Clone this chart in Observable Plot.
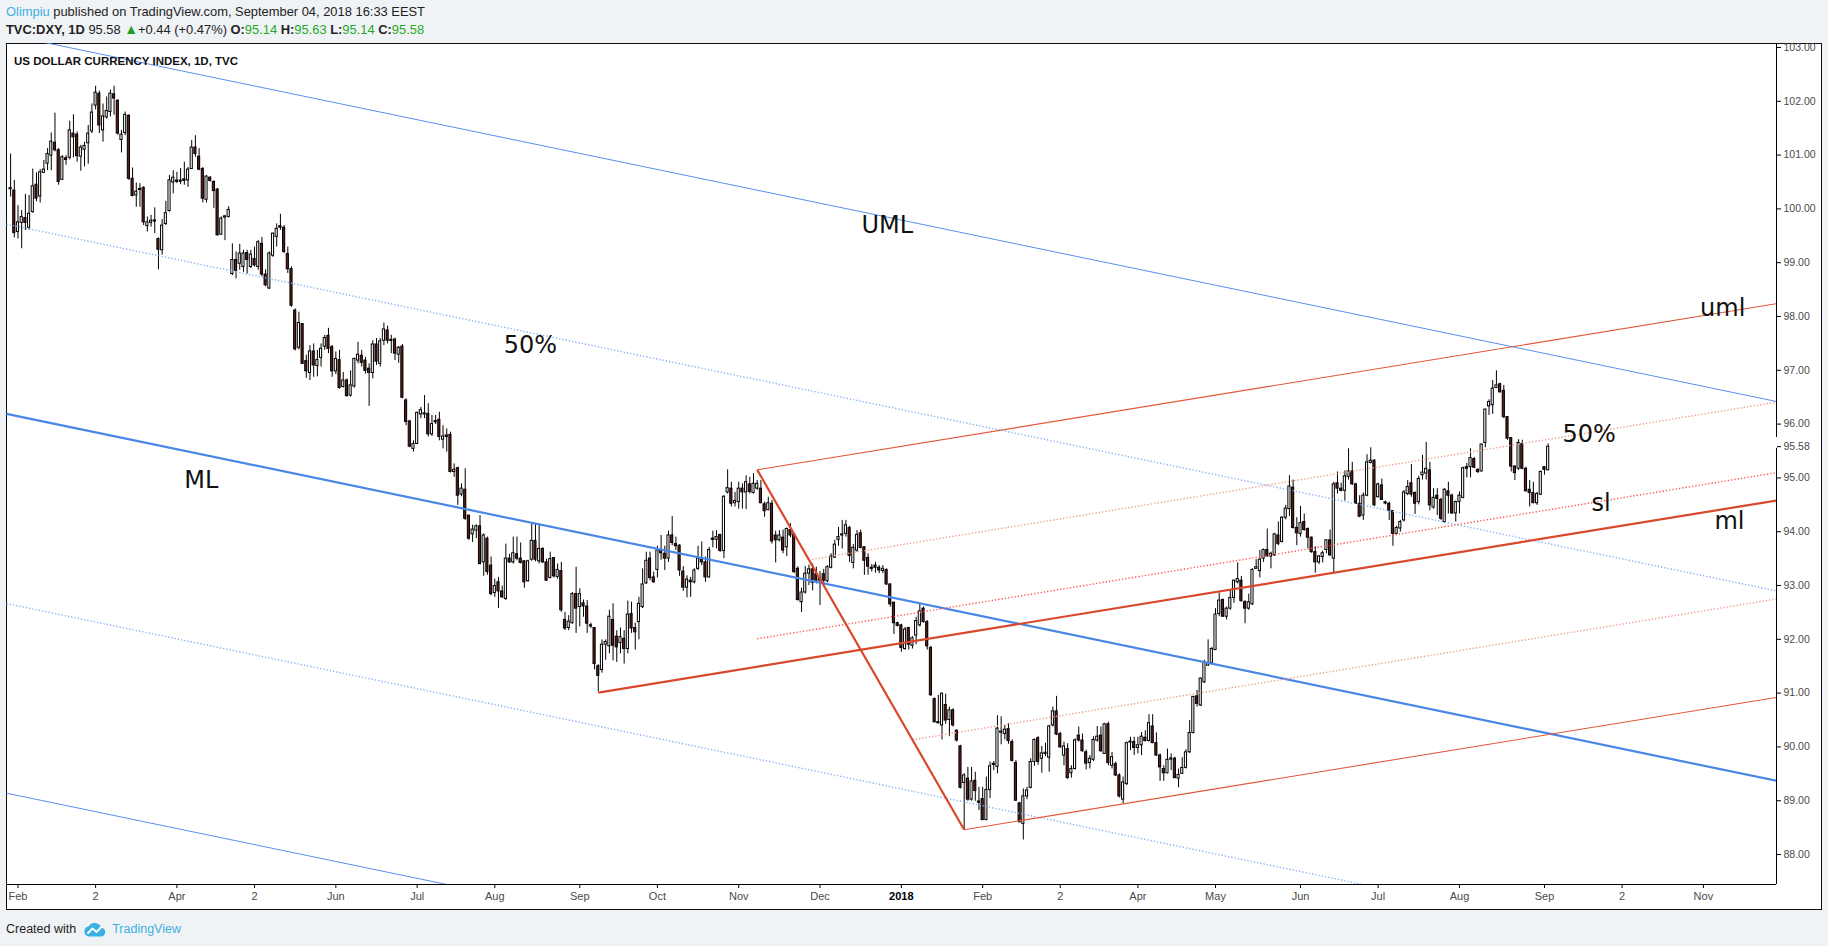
<!DOCTYPE html>
<html><head><meta charset="utf-8">
<script src="https://cdn.jsdelivr.net/npm/d3@7"></script>
<script src="https://cdn.jsdelivr.net/npm/@observablehq/plot@0.6"></script>
<style>
html,body{margin:0;padding:0;}
body{width:1828px;height:946px;background:#f0f3f6;position:relative;overflow:hidden;font-family:"Liberation Sans",Arial,sans-serif;}
#box{position:absolute;left:6px;top:43px;width:1816px;height:867px;box-sizing:border-box;border:1px solid #111;background:#fff;}
#chart{position:absolute;left:0;top:0;}
.hdr{position:absolute;left:6px;font-size:12.9px;color:#222;white-space:nowrap;line-height:14px;}
.blue{color:#3bb0e2;}
.g{color:#27a827;}
.tri{color:#1f9f1f;font-size:14px;}
#title{position:absolute;left:14px;top:54px;font-size:11.5px;font-weight:bold;color:#111;white-space:nowrap;line-height:14px;}
#foot{position:absolute;left:6px;top:920px;font-size:12.5px;color:#222;white-space:nowrap;line-height:18px;display:flex;align-items:center;}
#foot svg{margin:0 5px 0 7px;}
</style></head>
<body>
<div id="box"></div>
<div class="hdr" style="top:5px"><span class="blue">Olimpiu</span> published on TradingView.com, September 04, 2018 16:33 EEST</div>
<div class="hdr" style="top:22px"><b>TVC:DXY, 1D</b> 95.58 <span class="tri">&#9650;</span>+0.44 (+0.47%) <b>O:</b><span class="g">95.14</span> <b>H:</b><span class="g">95.63</span> <b>L:</b><span class="g">95.14</span> <b>C:</b><span class="g">95.58</span></div>
<div id="chart"></div>
<div id="title">US DOLLAR CURRENCY INDEX, 1D, TVC</div>
<div id="foot">Created with<svg width="24" height="15" viewBox="0 0 24 15"><path d="M6 14.5a5 5 0 0 1-0.5-9.9a7 7 0 0 1 12.8 1.2a4.4 4.4 0 0 1 0.2 8.7z" fill="#3bb0e2"/><path d="M4.5 11.5L9.5 6.5L13.5 10L19 4.5" stroke="#fff" stroke-width="2" fill="none"/></svg><span class="blue">TradingView</span></div>
<script>
// ---- data ----
const startDate = "2017-01-30"; // first daily bar shown
// [open, high, low, close] for each weekday from startDate
const candles = [
[100.37,101.02,100.22,100.38],[100.34,100.53,99.46,99.55],[99.57,100.06,99.44,99.75],[99.74,99.97,99.26,99.85],[99.83,100.27,99.60,99.74],
[99.65,100.25,99.60,99.91],[99.94,100.74,99.92,100.42],[100.45,100.67,100.13,100.19],[100.23,100.73,100.11,100.68],[100.67,100.90,100.66,100.73],
[100.84,101.12,100.71,101.02],[100.99,101.41,100.71,101.25],[101.23,101.78,101.06,101.09],[101.09,101.12,100.44,100.50],[100.54,100.99,100.53,100.96],
[100.94,100.99,100.81,100.91],[100.95,101.63,100.91,101.46],[101.40,101.75,100.95,101.33],[101.38,101.43,100.87,100.98],[100.97,101.18,100.70,101.14],
[101.10,101.24,100.78,101.17],[101.22,101.55,100.83,101.40],[101.44,101.95,101.40,101.79],[101.92,102.28,101.84,102.16],[102.14,102.19,101.40,101.55],
[101.46,101.95,101.24,101.72],[101.70,102.08,101.67,101.82],[101.80,102.21,101.71,102.14],[102.13,102.28,101.74,102.05],[102.01,102.03,101.37,101.40],
[101.28,101.46,101.04,101.38],[101.41,101.80,101.36,101.75],[101.73,101.75,100.53,100.56],[100.56,100.76,100.22,100.24],[100.25,100.48,100.03,100.32],
[100.37,100.47,100.03,100.35],[100.39,100.41,99.69,99.75],[99.68,99.85,99.57,99.75],[99.74,99.88,99.66,99.78],[99.78,100.02,99.54,99.77],
[99.44,99.46,98.87,99.24],[99.23,99.80,99.14,99.69],[99.72,100.14,99.69,99.92],[99.96,100.62,99.94,100.53],[100.49,100.71,100.28,100.58],
[100.52,100.68,100.47,100.51],[100.52,100.75,100.45,100.51],[100.55,100.87,100.44,100.52],[100.53,100.77,100.40,100.73],[100.74,101.27,100.74,101.14],
[101.14,101.36,100.96,101.02],[100.97,101.12,100.71,100.73],[100.74,100.77,100.11,100.19],[100.17,100.62,100.11,100.60],[100.58,100.60,100.50,100.52],
[100.50,100.52,100.01,100.33],[100.36,100.38,99.49,99.51],[99.52,99.85,99.51,99.82],[99.84,99.88,99.41,99.86],[99.85,100.04,99.83,99.98],
[98.79,99.35,98.76,99.05],[99.05,99.20,98.70,98.85],[98.98,99.34,98.86,99.17],[98.92,99.23,98.82,99.17],[99.18,99.23,98.79,99.05],
[98.92,99.23,98.89,99.15],[99.07,99.29,98.92,98.95],[98.92,99.41,98.86,99.38],[99.35,99.47,98.74,98.78],[98.78,98.87,98.55,98.58],
[98.52,99.20,98.50,99.17],[99.13,99.55,99.10,99.54],[99.48,99.72,99.29,99.63],[99.68,99.90,99.60,99.65],[99.65,99.69,99.17,99.20],
[99.16,99.29,98.80,98.88],[98.88,98.92,98.17,98.20],[98.11,98.14,97.36,97.39],[97.42,98.08,97.38,97.88],[97.86,97.87,97.11,97.12],
[97.17,97.28,96.85,96.98],[96.95,97.46,96.81,97.35],[97.35,97.49,96.87,97.09],[97.08,97.37,96.88,97.19],[97.23,97.49,97.06,97.40],
[97.44,97.65,97.37,97.60],[97.64,97.78,97.31,97.40],[97.43,97.46,96.87,96.98],[96.98,97.34,96.92,97.21],[97.19,97.37,96.65,96.67],
[96.69,96.96,96.67,96.81],[96.81,96.84,96.50,96.52],[96.53,96.99,96.50,96.72],[96.70,97.23,96.67,97.21],[97.18,97.52,97.12,97.29],
[97.27,97.37,97.06,97.14],[97.18,97.24,96.93,96.99],[97.03,97.12,96.33,96.95],[96.95,97.55,96.84,97.48],[97.48,97.59,97.09,97.16],
[97.12,97.59,97.06,97.54],[97.55,97.88,97.46,97.76],[97.74,97.82,97.49,97.55],[97.56,97.65,97.31,97.55],[97.57,97.60,97.18,97.31],
[97.29,97.44,97.13,97.42],[97.44,97.48,96.47,96.49],[96.44,96.47,95.97,96.04],[96.05,96.07,95.56,95.58],[95.54,95.69,95.48,95.63],
[95.63,96.22,95.62,96.21],[96.18,96.31,96.10,96.26],[96.19,96.53,96.10,96.19],[96.19,96.38,95.76,95.81],[95.81,96.16,95.77,96.00],
[96.05,96.16,95.99,96.04],[96.08,96.22,95.69,95.76],[95.71,95.97,95.54,95.77],[95.79,95.91,95.48,95.76],[95.80,95.85,95.09,95.11],
[95.11,95.26,95.01,95.15],[95.18,95.20,94.49,94.67],[94.69,94.89,94.65,94.80],[94.78,95.17,94.21,94.24],[94.30,94.30,93.84,93.87],
[93.95,94.12,93.80,94.04],[94.02,94.13,93.87,94.10],[94.10,94.30,93.38,93.40],[93.43,93.96,93.17,93.93],[93.87,93.90,93.19,93.25],
[93.37,93.53,92.81,92.84],[92.86,93.12,92.78,92.99],[93.06,93.15,92.57,92.89],[92.89,92.99,92.76,92.78],[92.75,93.77,92.72,93.50],
[93.50,93.58,93.41,93.43],[93.43,93.90,93.40,93.60],[93.58,93.90,93.46,93.50],[93.50,93.79,93.40,93.42],[93.45,93.46,92.95,93.06],
[93.08,93.47,93.06,93.45],[93.48,94.16,93.45,93.83],[93.83,94.15,93.44,93.48],[93.45,94.13,93.40,93.68],[93.68,93.70,93.41,93.43],
[93.43,93.49,93.08,93.09],[93.14,93.62,93.12,93.49],[93.51,93.52,93.14,93.17],[93.16,93.40,93.12,93.29],[93.27,93.43,92.50,92.54],
[92.36,92.50,92.16,92.20],[92.21,92.44,92.16,92.33],[92.30,92.87,92.28,92.84],[92.84,93.34,92.11,92.57],[92.60,92.94,92.23,92.84],
[92.67,92.73,92.41,92.61],[92.61,92.72,92.11,92.29],[92.26,92.30,92.20,92.24],[92.21,92.22,91.43,91.54],[91.50,91.53,91.02,91.32],
[91.43,91.99,91.37,91.90],[91.90,91.99,91.61,91.95],[91.87,92.54,91.73,92.42],[92.36,92.66,91.60,91.88],[92.05,92.16,91.57,91.85],
[91.93,92.21,91.73,92.04],[92.01,92.16,91.54,91.82],[91.82,92.71,91.73,92.46],[92.47,92.69,92.11,92.20],[92.21,92.30,91.80,92.13],
[92.32,92.78,91.99,92.66],[92.60,93.31,92.57,93.02],[93.04,93.62,93.02,93.46],[93.50,93.62,93.09,93.14],[93.15,93.25,93.04,93.06],
[93.29,93.73,93.14,93.65],[93.65,93.93,93.47,93.60],[93.59,93.73,93.28,93.50],[93.50,94.01,93.43,93.93],[93.93,94.28,93.74,93.79],
[93.77,93.90,93.65,93.73],[93.74,93.76,93.17,93.28],[93.26,93.35,92.89,92.96],[92.96,93.18,92.77,93.11],[93.09,93.15,92.78,93.06],
[93.06,93.31,93.03,93.28],[93.31,93.73,93.28,93.50],[93.48,93.81,93.37,93.43],[93.43,93.53,93.06,93.15],[93.15,93.71,93.14,93.66],
[93.87,94.01,93.70,93.85],[93.85,94.02,93.68,93.90],[93.94,93.95,93.62,93.64],[93.64,94.67,93.50,94.65],[94.73,95.15,94.70,94.81],
[94.80,94.92,94.46,94.52],[94.53,94.73,94.46,94.57],[94.55,94.92,94.42,94.80],[94.80,94.89,94.42,94.73],[94.73,95.04,94.41,94.92],
[94.88,95.01,94.70,94.74],[94.72,95.08,94.70,94.89],[94.80,94.95,94.77,94.89],[94.80,94.95,94.52,94.53],[94.51,94.55,94.27,94.38],
[94.40,94.64,94.39,94.53],[94.52,94.58,93.77,93.82],[93.93,94.01,93.42,93.84],[93.84,94.02,93.81,93.93],[93.89,94.03,93.59,93.65],
[93.71,94.07,93.54,94.05],[94.03,94.15,93.89,93.93],[93.95,93.97,93.22,93.25],[93.31,93.35,92.71,92.73],[92.69,92.95,92.50,92.87],
[92.87,93.35,92.84,93.22],[93.22,93.38,93.00,93.30],[93.30,93.40,92.90,93.05],[93.21,93.34,93.03,93.09],[93.09,93.26,92.63,93.13],
[93.21,93.30,92.98,93.09],[93.08,93.37,93.05,93.34],[93.33,93.59,93.31,93.54],[93.52,93.84,93.50,93.76],[93.85,94.08,93.73,93.90],
[93.93,94.21,93.68,93.95],[93.96,94.21,93.90,94.12],[94.07,94.10,93.43,93.55],[93.42,93.76,93.31,93.70],[93.65,94.02,93.62,93.94],
[93.97,94.03,93.68,93.70],[93.71,93.72,93.19,93.46],[93.51,93.59,93.19,93.35],[93.33,93.39,93.25,93.31],[93.37,93.43,93.23,93.33],
[93.33,93.37,93.22,93.28],[93.27,93.37,93.22,93.31],[93.29,93.31,93.00,93.02],[93.02,93.03,92.60,92.65],[92.68,92.69,92.09,92.30],
[92.30,92.32,92.23,92.25],[92.26,92.28,91.76,91.84],[91.82,92.22,91.80,92.18],[92.21,92.22,91.80,91.90],[91.88,92.05,91.82,92.02],
[92.07,92.41,91.90,92.34],[92.26,92.65,92.23,92.52],[92.57,92.60,92.30,92.32],[92.32,92.35,91.80,91.87],[91.84,91.87,90.94,90.96],
[90.89,90.91,90.44,90.46],[90.46,90.96,90.43,90.44],[90.40,91.00,90.13,90.99],[90.78,90.98,90.42,90.49],[90.50,90.74,90.19,90.68],
[90.68,90.71,90.37,90.40],[90.30,90.32,90.09,90.12],[90.01,90.03,89.22,89.24],[89.33,89.50,88.46,89.47],[89.41,89.62,88.99,89.02],
[89.02,89.62,88.99,89.36],[89.37,89.53,88.99,89.18],[88.98,89.25,88.82,88.97],[89.03,89.25,88.63,88.64],[88.64,89.44,88.63,89.20],
[89.20,89.72,89.04,89.64],[89.67,89.73,89.56,89.68],[89.63,90.58,89.50,90.34],[90.27,90.56,90.04,90.28],[90.24,90.40,90.13,90.32],
[90.33,90.43,90.05,90.11],[90.09,90.13,89.72,89.74],[89.70,89.75,88.99,89.00],[88.95,88.97,88.59,88.60],[88.57,89.22,88.27,89.08],
[89.08,89.25,89.02,89.19],[89.24,89.78,89.22,89.72],[89.72,90.15,89.64,90.13],[90.16,90.19,89.66,89.72],[89.78,90.01,89.51,89.88],
[89.87,90.07,89.82,89.89],[89.80,90.40,89.53,90.38],[90.40,90.74,90.37,90.66],[90.66,90.94,90.21,90.23],[90.24,90.27,89.98,89.99],
[89.84,90.09,89.65,90.01],[89.96,90.06,89.40,89.42],[89.51,89.65,89.42,89.59],[89.59,90.15,89.57,90.12],[90.21,90.37,90.09,90.12],
[90.12,90.24,89.90,89.92],[89.90,89.94,89.57,89.69],[89.70,89.84,89.59,89.78],[89.76,90.19,89.73,90.13],[90.12,90.38,90.09,90.19],
[90.21,90.37,89.90,89.92],[89.87,90.44,89.86,90.42],[90.42,90.46,89.65,89.70],[89.65,89.90,89.59,89.81],[89.68,89.72,89.45,89.47],
[89.47,89.50,89.05,89.08],[89.02,89.44,88.94,89.34],[89.31,90.09,89.28,90.07],[90.08,90.18,89.93,90.10],[90.09,90.18,89.84,89.98],
[89.98,90.18,89.87,90.03],[90.03,90.27,89.84,90.19],[90.17,90.30,90.09,90.11],[90.11,90.60,90.09,90.44],[90.38,90.60,90.06,90.07],
[90.07,90.26,89.82,89.84],[89.84,89.87,89.36,89.62],[89.59,89.65,89.36,89.51],[89.51,89.96,89.50,89.76],[89.77,89.87,89.56,89.78],
[89.78,89.81,89.41,89.42],[89.41,89.59,89.24,89.48],[89.50,89.80,89.49,89.61],[89.61,89.95,89.59,89.90],[89.90,90.49,89.88,90.26],
[90.26,90.94,90.24,90.93],[90.94,91.05,90.74,90.80],[90.77,91.28,90.75,91.27],[91.20,91.61,91.18,91.56],[91.51,91.99,91.51,91.56],
[91.56,91.85,91.54,91.82],[91.80,92.57,91.79,92.46],[92.47,92.86,92.42,92.72],[92.73,92.75,92.41,92.42],[92.42,92.60,92.36,92.57],
[92.57,92.92,92.54,92.77],[92.77,93.10,92.67,93.09],[93.06,93.42,93.03,93.12],[93.09,93.17,92.69,92.71],[92.69,92.72,92.29,92.57],
[92.57,92.84,92.54,92.69],[92.65,93.31,92.63,93.29],[93.31,93.48,93.31,93.34],[93.27,93.65,93.14,93.48],[93.50,93.68,93.43,93.66],
[93.66,94.05,93.53,93.54],[93.54,93.62,93.31,93.59],[93.56,93.97,93.54,93.95],[93.93,94.18,93.74,93.77],[93.81,94.28,93.79,94.26],
[94.26,94.49,94.22,94.43],[94.42,95.04,94.28,94.84],[94.82,94.96,94.05,94.07],[94.07,94.26,93.74,93.97],[93.96,94.47,93.90,94.16],
[94.18,94.33,94.01,94.03],[94.05,94.07,93.68,93.89],[93.89,93.90,93.60,93.62],[93.62,93.72,93.23,93.43],[93.43,93.56,93.39,93.54],
[93.53,93.64,93.42,93.60],[93.66,93.85,93.59,93.84],[93.84,94.03,93.54,93.56],[93.50,94.92,93.23,94.88],[94.90,95.11,94.70,94.80],
[94.80,94.90,94.74,94.76],[94.76,95.13,94.57,95.03],[95.02,95.54,94.96,95.12],[95.12,95.29,94.86,94.88],[94.88,94.90,94.51,94.52],
[94.52,94.67,94.26,94.28],[94.30,94.72,94.21,94.67],[94.67,95.43,94.65,95.29],[95.28,95.56,95.26,95.32],[95.32,95.34,94.47,94.49],
[94.64,94.90,94.63,94.88],[94.86,94.98,94.58,94.59],[94.54,94.57,94.50,94.53],[94.52,94.55,94.21,94.39],[94.38,94.39,93.73,93.96],
[93.96,94.10,93.95,94.07],[94.06,94.21,93.99,94.18],[94.21,94.77,94.18,94.73],[94.70,94.95,94.67,94.83],[94.90,95.25,94.64,94.69],
[94.72,94.74,94.32,94.52],[94.55,95.03,94.50,94.98],[95.05,95.42,94.96,95.10],[95.08,95.66,94.96,95.17],[95.14,95.29,94.39,94.49],
[94.45,94.80,94.42,94.63],[94.67,94.80,94.30,94.61],[94.59,94.62,94.21,94.24],[94.18,94.80,94.16,94.78],[94.75,94.92,94.33,94.67],
[94.67,94.70,94.32,94.34],[94.34,94.57,94.18,94.55],[94.55,94.74,94.33,94.67],[94.63,95.20,94.61,95.18],[95.20,95.27,95.00,95.17],
[95.20,95.54,95.00,95.37],[95.35,95.38,95.17,95.19],[95.15,95.17,95.08,95.11],[95.12,95.63,95.11,95.62],[95.65,96.28,95.56,96.27],
[96.33,96.45,96.16,96.41],[96.35,96.81,96.18,96.66],[96.67,96.99,96.66,96.72],[96.74,96.76,96.58,96.59],[96.62,96.72,96.10,96.13],
[96.13,96.14,95.70,95.73],[95.74,95.75,95.11,95.21],[95.21,95.23,94.95,95.09],[95.17,95.71,95.14,95.65],[95.63,95.70,95.15,95.17],
[95.17,95.20,94.74,94.75],[94.78,94.95,94.46,94.72],[94.72,94.92,94.52,94.53],[94.53,94.73,94.49,94.70],[94.69,95.13,94.67,95.11],
[95.20,95.21,95.05,95.15],[95.14,95.63,95.14,95.58]
];
// time-axis tick labels (TradingView bar-index axis)
const tickDates  = ["2017-02-01","2017-03-02","2017-04-03","2017-05-02","2017-06-01","2017-07-03","2017-08-01","2017-09-01","2017-10-02","2017-11-01","2017-12-01","2018-01-02","2018-02-01","2018-03-02","2018-04-02","2018-05-01","2018-06-01","2018-07-02","2018-08-01","2018-09-03","2018-10-02","2018-11-01"];
const tickLabels = ["Feb","2","Apr","2","Jun","Jul","Aug","Sep","Oct","Nov","Dec","2018","Feb","2","Apr","May","Jun","Jul","Aug","Sep","2","Nov"];
const priceTicks = [88,89,90,91,92,93,94,95,96,97,98,99,100,101,102,103];
const lastPrice = 95.58;
// red Andrews pitchfork pivots: [date, price]
const redPivotDates  = ["2017-09-08","2017-11-08","2018-01-25"];
const redPivotPrices = [91.01, 95.15, 88.46];
const slAnchorDate = "2017-11-08", slAnchorPrice = 92.01;
// blue pitchfork (pivots off-chart): price of each line at left and right edge
const blueNames = ["UML","50% up","ML","50% low","LML"];
const blueLeft  = [103.24, 99.715, 96.19, 92.665, 89.14];
const blueRight = [96.42, 92.90, 89.37, 85.85, 82.32];
// annotation texts: [text, bar index, price]
const noteTexts  = ["UML","50%","ML","uml","50%","sl","ml"];
const noteBars   = [228.2, 131.4, 45.0, 455.1, 417.9, 425.7, 459.0];
const notePrices = [99.69, 97.46, 94.95, 98.15, 95.81, 94.52, 94.19];
// visible domains
const barDomain = [-3.11, 475.78];
const priceDomain = [87.443, 103.074];

// ---- helpers ----
function bizIndex(s) { // weekday count relative to 2017-02-01
  const base = Date.UTC(2017, 1, 1), t = Date.parse(s + "T00:00:00Z");
  const lo = Math.min(base, t), hi = Math.max(base, t);
  let n = 0;
  for (let d = lo; d < hi; d += 864e5) { const w = new Date(d).getUTCDay(); if (w !== 0 && w !== 6) n++; }
  return t >= base ? n : -n;
}
const i0 = bizIndex(startDate);
const bars = candles.map(([o, h, l, c], j) => ({i: i0 + j, o, h, l, c}));
const tickIdx = tickDates.map(bizIndex);
const tickMap = new Map(tickIdx.map((v, k) => [v, tickLabels[k]]));
const boldIdx = tickIdx.filter((v, k) => tickLabels[k] === "2018");
const normIdx = tickIdx.filter((v, k) => tickLabels[k] !== "2018");

const [A, B, C] = redPivotDates.map((d, k) => ({i: bizIndex(d), p: redPivotPrices[k]}));
const M = {i: (B.i + C.i) / 2, p: (B.p + C.p) / 2};
const slope = (M.p - A.p) / (M.i - A.i);
const xEnd = barDomain[1];
const ext = (P) => ({x1: P.i, y1: P.p, x2: xEnd, y2: P.p + slope * (xEnd - P.i)});
const along = (f) => ({i: B.i + f * (C.i - B.i), p: B.p + f * (C.p - B.p)});
const slP = {i: bizIndex(slAnchorDate), p: slAnchorPrice};

const red = {
  ml: ext(A), uml: ext(B), lml: ext(C),
  handle: {x1: B.i, y1: B.p, x2: C.i, y2: C.p},
  u50: ext(along(0.25)), l50: ext(along(0.75)), sl: ext(slP)
};
const blue = blueNames.map((n, k) => ({n, x1: barDomain[0], y1: blueLeft[k], x2: barDomain[1], y2: blueRight[k]}));

const link = (seg, opts) => Plot.link([seg], {x1: "x1", y1: "y1", x2: "x2", y2: "y2", clip: true, ...opts});
const blueStyle = [
  {stroke: "#5b8ef0", strokeWidth: 1},
  {stroke: "#86aff5", strokeWidth: 1.4, strokeDasharray: "1.3,2"},
  {stroke: "#4a86e8", strokeWidth: 2.2},
  {stroke: "#86aff5", strokeWidth: 1.4, strokeDasharray: "1.3,2"},
  {stroke: "#5b8ef0", strokeWidth: 1}
];
const minBody = 0.011;
const bodyY1 = d => Math.abs(d.c - d.o) < 2 * minBody ? (d.o + d.c) / 2 - minBody : d.o;
const bodyY2 = d => Math.abs(d.c - d.o) < 2 * minBody ? (d.o + d.c) / 2 + minBody : d.c;
const notes = noteTexts.map((t, k) => ({t, i: noteBars[k], p: notePrices[k]}));

const chart = Plot.plot({
  width: 1828, height: 946,
  marginLeft: 6, marginRight: 52, marginTop: 43, marginBottom: 62,
  style: {background: "transparent", overflow: "visible"},
  x: {type: "linear", domain: barDomain, axis: null},
  y: {type: "linear", domain: priceDomain, axis: null},
  marks: [
    // candles
    Plot.ruleX(bars, {x: "i", y1: "l", y2: "h", stroke: "#000", strokeWidth: 1}),
    Plot.rect(bars, {x1: d => d.i - 0.29, x2: d => d.i + 0.29, y1: bodyY1, y2: bodyY2,
      fill: d => d.c >= d.o ? "#ffffff" : "#5f1c14", stroke: "#000", strokeWidth: 1}),
    // blue pitchfork
    ...blue.map((s, k) => link(s, blueStyle[k])),
    // red pitchfork
    link(red.u50, {stroke: "#ee9c88", strokeWidth: 1.4, strokeDasharray: "1.3,2"}),
    link(red.l50, {stroke: "#ee9c88", strokeWidth: 1.4, strokeDasharray: "1.3,2"}),
    link(red.sl,  {stroke: "#ff5252", strokeWidth: 1.4, strokeDasharray: "1.3,2"}),
    link(red.uml, {stroke: "#e2583c", strokeWidth: 1.1}),
    link(red.lml, {stroke: "#e2583c", strokeWidth: 1.1}),
    link(red.ml,  {stroke: "#d9482b", strokeWidth: 2.2}),
    link(red.handle, {stroke: "#d9482b", strokeWidth: 2.2}),
    // annotations
    Plot.text(notes, {x: "i", y: "p", text: "t", textAnchor: "start", lineAnchor: "middle",
      fontSize: 24, fontFamily: "DejaVu Sans", fill: "#111"}),
    // axes
    Plot.ruleY([priceDomain[0]], {stroke: "#000", strokeWidth: 1}),
    Plot.ruleX([barDomain[1]], {y1: priceDomain[0], y2: lastPrice - 0.03, stroke: "#000", strokeWidth: 1}),
    Plot.ruleX([barDomain[1]], {y1: lastPrice + 0.17, y2: priceDomain[1], stroke: "#000", strokeWidth: 1}),
    Plot.axisY({anchor: "right", ticks: [...priceTicks, lastPrice], tickFormat: d => d.toFixed(2), tickSize: 4, tickPadding: 3,
      fontSize: 10.5, fontFamily: "Liberation Sans", fill: "#4a4a4a", stroke: "#000", label: null}),
    Plot.axisX({anchor: "bottom", ticks: normIdx, tickFormat: d => tickMap.get(d), tickSize: 4, tickPadding: 4,
      fontSize: 11, fontFamily: "Liberation Sans", fill: "#4a4a4a", stroke: "#000", label: null}),
    Plot.axisX({anchor: "bottom", ticks: boldIdx, tickFormat: d => tickMap.get(d), tickSize: 4, tickPadding: 4,
      fontSize: 11, fontFamily: "Liberation Sans", fontWeight: "bold", fill: "#000", stroke: "#000", label: null})
  ]
});
document.getElementById("chart").appendChild(chart);
</script>
</body></html>
